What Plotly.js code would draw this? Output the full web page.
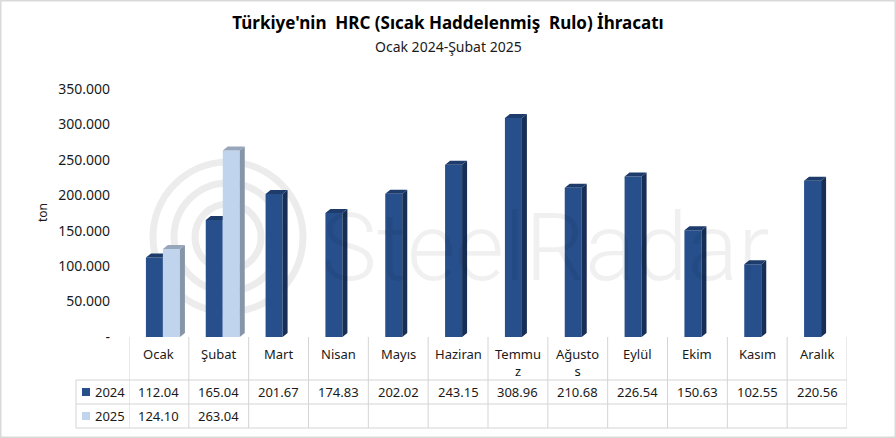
<!DOCTYPE html>
<html>
<head>
<meta charset="utf-8">
<script src="https://cdn.plot.ly/plotly-3.0.1.min.js"></script>
<style>html,body{margin:0;padding:0;background:#fff;}#chart{width:896px;height:438px;}</style>
</head>
<body>
<div id="chart"></div>
<script>
// ---- data (thousand tons) ----
const months = ['Ocak','Şubat','Mart','Nisan','Mayıs','Haziran','Temmuz','Ağustos','Eylül','Ekim','Kasım','Aralık'];
const headerLabels = ['Ocak','Şubat','Mart','Nisan','Mayıs','Haziran','Temmu<br>z','Ağusto<br>s','Eylül','Ekim','Kasım','Aralık'];
const v2024 = [112.04,165.04,201.67,174.83,202.02,243.15,308.96,210.68,226.54,150.63,102.55,220.56];
const v2025 = [124.10,263.04,null,null,null,null,null,null,null,null,null,null];
const seriesNames = ['2024','2025'];
const yTicks = [0,50,100,150,200,250,300,350];

// ---- geometry ----
const W = 896, H = 438;
const L = 129, R = 847, T = 89, B = 337;
const yMax = 350;
const pxPerX = (R - L) / 12;
const pxPerY = (B - T) / yMax;
const dx = 5 / pxPerX, dy = 4 / pxPerY;
const barW = 17 / pxPerX;
const off1 = -13 / pxPerX;  // left edge offset of 2024 bar from category centre
const off2 = off1 + barW;
const py = p => (B - p) / (B - T);          // pixel y -> paper y
const ppx = p => (p - L) / (R - L);          // pixel x -> paper x
const pxX = p => (p - L) / pxPerX - 0.5;     // pixel x -> data x

const font = "'Noto Sans', 'Open Sans', sans-serif";
const cDark = '#264f8b', cDarkSide = '#172f57', cDarkTop = '#1d3c6b';
const cLight = '#c1d4ee', cLightSide = '#8795a8', cLightTop = '#97a6bb';

const xs = months.map((_, i) => i);

const traces = [];
traces.push({type:'bar', x:xs, y:v2024, width:barW, offset:off1, marker:{color:cDark, line:{width:0}}, name:seriesNames[0], hoverinfo:'skip'});
traces.push({type:'bar', x:xs, y:v2025, width:barW, offset:off2, marker:{color:cLight, line:{width:0}}, name:seriesNames[1], hoverinfo:'skip'});

function faces(vals, off, nextVals, sideCol, topCol) {
  const sx=[], sy=[], tx=[], ty=[];
  vals.forEach((v, i) => {
    if (v == null) return;
    const xl = i + off, xr = xl + barW;
    const covered = nextVals && nextVals[i] != null && nextVals[i] >= v;
    if (!covered) {
      sx.push(xr, xr+dx, xr+dx, xr, xr, null);
      sy.push(0, dy, v+dy, v, 0, null);
      tx.push(xl, xl+dx, xr+dx, xr, xl, null);
      ty.push(v, v+dy, v+dy, v, v, null);
    } else {
      tx.push(xl, xl+dx, xr, xr, xl, null);
      ty.push(v, v+dy, v+dy, v, v, null);
    }
  });
  const out = [];
  if (sx.length) out.push({type:'scatter', mode:'lines', x:sx, y:sy, fill:'toself', fillcolor:sideCol, line:{width:0, color:sideCol}, hoverinfo:'skip'});
  out.push({type:'scatter', mode:'lines', x:tx, y:ty, fill:'toself', fillcolor:topCol, line:{width:0, color:topCol}, hoverinfo:'skip'});
  return out;
}
faces(v2024, off1, v2025, cDarkSide, cDarkTop).forEach(t => traces.push(t));
faces(v2025, off2, null, cLightSide, cLightTop).forEach(t => traces.push(t));

// ---- table ----
const grid = '#d4d4d4';
const shapes = [];
const annotations = [];
// watermark
const wm = 'rgba(0,0,0,0.075)';
[75, 54, 33].forEach(r => {
  shapes.push({type:'circle', xref:'paper', yref:'paper', layer:'below',
    x0:ppx(228-r), x1:ppx(228+r), y0:py(237+r), y1:py(237-r), line:{color:wm, width:7}});
});
annotations.push({text:'SteelRadar', xref:'paper', yref:'paper', x:ppx(545), y:py(248), showarrow:false,
  font:{family:"Roboto, sans-serif", size:94, color:'rgba(0,0,0,0.06)', weight:300}, xanchor:'center', yanchor:'middle'});

// outer border
shapes.push({type:'rect', xref:'paper', yref:'paper', x0:ppx(0.75), x1:ppx(W-0.75), y0:py(H-0.75), y1:py(0.75), line:{color:'#d9d9d9', width:1.5}});

for (let i = 0; i <= 12; i++) {
  shapes.push({type:'line', xref:'x', yref:'paper', x0:i-0.5, x1:i-0.5, y0:py(337), y1:py(428), line:{color:grid, width:1}});
}
shapes.push({type:'line', xref:'paper', yref:'paper', x0:ppx(76), x1:ppx(76), y0:py(380), y1:py(428), line:{color:grid, width:1}});
[380, 404, 428].forEach(p => shapes.push({type:'line', xref:'paper', yref:'paper', x0:ppx(76), x1:1, y0:py(p), y1:py(p), line:{color:grid, width:1}}));

const tf = {family:font, size:13, color:'#1a1a1a'};
headerLabels.forEach((m, i) => annotations.push({text:m, x:i, xref:'x', yref:'paper', y:py(343), yanchor:'top', showarrow:false, font:tf}));
const rows = [v2024, v2025];
const rowY = [392, 416];
const rowCol = [cDark, cLight];
rows.forEach((vals, r) => {
  vals.forEach((v, i) => {
    if (v == null) return;
    annotations.push({text:v.toFixed(2), x:i, xref:'x', yref:'paper', y:py(rowY[r]), yanchor:'middle', showarrow:false, font:tf});
  });
  annotations.push({text:seriesNames[r], x:ppx(93), xanchor:'left', xref:'paper', yref:'paper', y:py(rowY[r]), yanchor:'middle', showarrow:false, font:tf});
  shapes.push({type:'rect', xref:'paper', yref:'paper', x0:ppx(82), x1:ppx(90), y0:py(rowY[r]+4), y1:py(rowY[r]-4), fillcolor:rowCol[r], line:{width:0}});
});

// subtitle
annotations.push({text:'Ocak 2024-Şubat 2025', xref:'paper', yref:'paper', x:ppx(448), y:py(47), showarrow:false,
  font:{family:font, size:14, color:'#1a1a1a'}, xanchor:'center', yanchor:'middle'});
// y title
annotations.push({text:'ton', xref:'paper', yref:'paper', x:ppx(42), y:py(213), showarrow:false, textangle:-90,
  font:{family:font, size:12, color:'#1a1a1a'}, xanchor:'center', yanchor:'middle'});

const layout = {
  width:W, height:H,
  margin:{l:L, r:W-R, t:T, b:H-B, pad:0},
  paper_bgcolor:'#fff', plot_bgcolor:'rgba(0,0,0,0)',
  showlegend:false,
  barmode:'overlay',
  title:{text:"<b>Türkiye'nin  HRC (Sıcak Haddelenmiş  Rulo) İhracatı</b>", x:0.5, xref:'container', y:1-23/H, yref:'container', yanchor:'middle',
    font:{family:font, size:17, color:'#000'}},
  xaxis:{range:[-0.5, 11.5], showticklabels:false, showgrid:false, zeroline:false, showline:false, ticks:'', fixedrange:true},
  yaxis:{range:[0, yMax], tickvals:yTicks, ticktext:yTicks.map(v => v === 0 ? '-' : v + '.000'),
    showgrid:false, zeroline:false, showline:false, ticks:'', ticklabelstandoff:18,
    tickfont:{family:font, size:14, color:'#1a1a1a'}, fixedrange:true},
  shapes:shapes, annotations:annotations
};
Plotly.newPlot('chart', traces, layout, {staticPlot:true, displayModeBar:false});
</script>
</body>
</html>
